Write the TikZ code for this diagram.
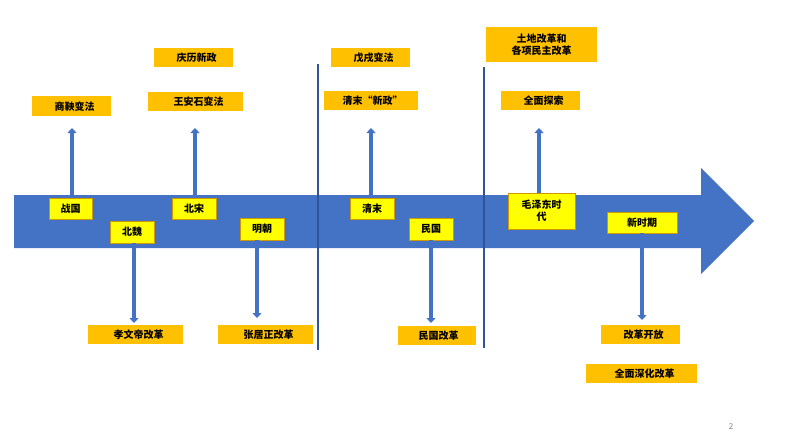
\documentclass[tikz,border=0pt]{standalone}
\usepackage{fontspec}
\setmainfont{Noto Sans CJK SC}
\usetikzlibrary{arrows.meta}
\definecolor{bandblue}{RGB}{68,114,196}
\definecolor{linkblue}{RGB}{47,85,151}
\definecolor{gold}{RGB}{255,192,0}
\definecolor{lemon}{RGB}{255,255,0}
\tikzset{
  reform/.style={fill=gold, inner sep=0pt, anchor=north west, align=left, font=\fontsize{10}{12}\selectfont\bfseries},
  era/.style={fill=lemon, draw=gold!80!black, line width=0.8pt, inner sep=0pt, align=center, font=\fontsize{10}{12}\selectfont\bfseries},
  link/.style={line width=3.5pt, bandblue, -{Triangle[width=9pt,length=5pt]}},
  divider/.style={line width=1.2pt, linkblue}
}
\begin{document}
\begin{tikzpicture}[x=1pt,y=-1pt]
	\useasboundingbox (0,0) rectangle (794,447);
	% timeline band
	\fill[bandblue] (14,195) -- (701,195) -- (701,168) -- (754,221) -- (701,274) -- (701,248) -- (14,248) -- cycle;
	
	\draw[divider] (318,64) -- (318,350);
	\draw[divider] (484,67) -- (484,348);
	
	% eras
	\node[era, minimum width=43pt, minimum height=21pt] (zhanguo) at (70.5,208.5) {战国};
	\node[era, minimum width=44pt, minimum height=22pt] (beiwei) at (132,232) {北魏};
	\node[era, minimum width=44pt, minimum height=21pt] (beisong) at (194,208.5) {北宋};
	\node[era, minimum width=44pt, minimum height=22pt] (mingchao) at (262,229) {明朝};
	\node[era, minimum width=44pt, minimum height=21pt] (qingmo) at (372,208.5) {清末};
	\node[era, minimum width=44pt, minimum height=22pt] (minguo) at (431,229) {民国};
	\node[era, minimum width=67pt, minimum height=36pt] (maoera) at (541.5,211) {毛泽东时\\代};
	\node[era, minimum width=70pt, minimum height=21pt] (newera) at (642,222.5) {新时期};
	
	% reforms
	\node[reform, minimum width=79pt, minimum height=20pt] (shangyang) at (32,96) {\hspace{6pt}商鞅变法};
	\node[reform, minimum width=79pt, minimum height=19pt] (qingli) at (154,48) {\hspace{6pt}庆历新政};
	\node[reform, minimum width=95pt, minimum height=19pt] (wanganshi) at (148,92) {\hspace{6pt}王安石变法};
	\node[reform, minimum width=95pt, minimum height=19pt] (xiaowen) at (88,325) {\hspace{6pt}孝文帝改革};
	\node[reform, minimum width=95pt, minimum height=19pt] (zhangjuzheng) at (218,325) {\hspace{6pt}张居正改革};
	\node[reform, minimum width=79pt, minimum height=19pt] (wuxu) at (331,48) {\hspace{6pt}戊戌变法};
	\node[reform, minimum width=94pt, minimum height=19pt] (xinzheng) at (324,91) {\hspace{3pt}清末“新政”};
	\node[reform, minimum width=78pt, minimum height=19pt] (minguoreform) at (398,326) {\hspace{3pt}民国改革};
	\node[reform, minimum width=111pt, minimum height=35pt, align=center] (tudi) at (486,27) {土地改革和\\各项民主改革};
	\node[reform, minimum width=79pt, minimum height=19pt] (tansuo) at (501,91) {\hspace{6pt}全面探索};
	\node[reform, minimum width=79pt, minimum height=19pt] (kaifang) at (601,325) {\hspace{6pt}改革开放};
	\node[reform, minimum width=111pt, minimum height=19pt] (shenhua) at (586,364) {\hspace{6pt}全面深化改革};
	
	% arrow ends
	\coordinate (upA) at (72,128);
	\coordinate (upB) at (195,128);
	\coordinate (upC) at (371,128);
	\coordinate (upD) at (539,128);
	\coordinate (downA) at (134,323);
	\coordinate (downB) at (257,318);
	\coordinate (downC) at (431,323);
	\coordinate (downD) at (642,320);
	
	\draw[link] (72,195) -- (upA);
	\draw[link] (195,195) -- (upB);
	\draw[link] (371,195) -- (upC);
	\draw[link] (maoera.north -| upD) -- (upD);
	\draw[link] (beiwei.south -| downA) -- (downA);
	\draw[link] (mingchao.south -| downB) -- (downB);
	\draw[link] (minguo.south) -- (downC);
	\draw[link] (newera.south) -- (downD);
	
	\node[gray, font=\fontsize{8}{9}\selectfont] (pagenum) at (731,427) {2};
\end{tikzpicture}
\end{document}
